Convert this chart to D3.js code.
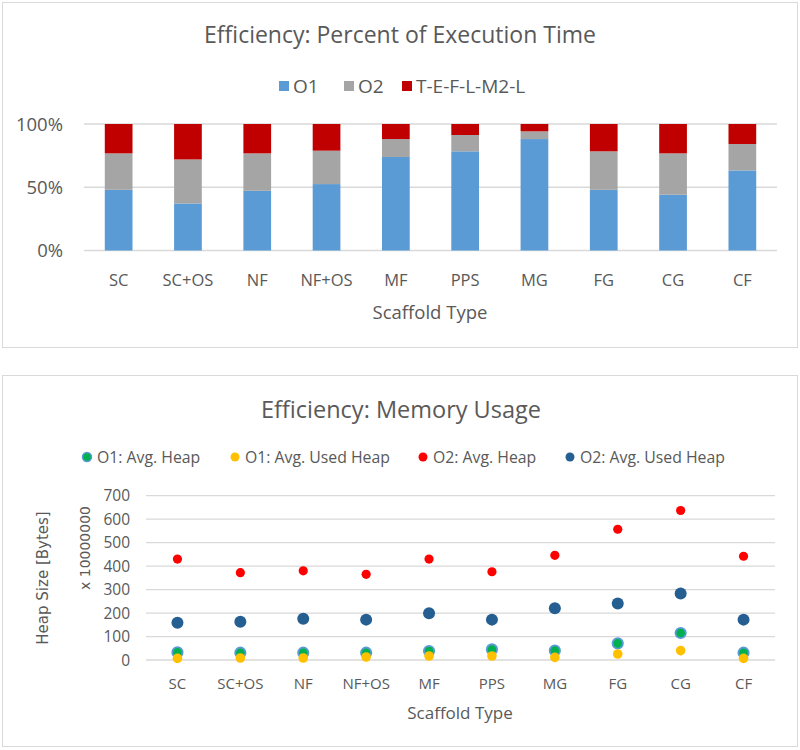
<!DOCTYPE html>
<html>
<head>
<meta charset="utf-8">
<script src="https://cdn.jsdelivr.net/npm/d3@7"></script>
<style>
  body { margin: 0; background: #fff; }
  svg { display: block; }
  text { font-family: "Open Sans", sans-serif; fill: #595959; }
</style>
</head>
<body>
<svg width="800" height="750"></svg>
<script>
const SCAFFOLDS = ['SC', 'SC+OS', 'NF', 'NF+OS', 'MF', 'PPS', 'MG', 'FG', 'CG', 'CF'];

// top chart: share of execution time (%)
const O1_TIME = [48, 37.2, 47.2, 52.5, 73.9, 78.4, 88.1, 48, 44.1, 63.3];
const O2_TIME = [28.8, 34.8, 29.6, 26.4, 14.2, 12.9, 6.1, 30.4, 32.7, 20.9];
const TEFL_TIME = [23.2, 28, 23.2, 21.1, 11.9, 8.7, 5.8, 21.6, 23.2, 15.8];
const PCT_TICKS = [0, 50, 100];

// bottom chart: heap size (x 10000000 bytes)
const O1_HEAP = [33, 31, 31, 31, 38, 45, 40, 71, 115, 31];
const O1_USED = [7, 8.5, 8.5, 12.8, 17, 17, 11, 25.5, 40, 7];
const O2_HEAP = [430, 372, 380, 365, 430, 376, 446, 557, 637, 442];
const O2_USED = [159, 163, 176, 172, 199, 172, 220, 241, 283, 172];
const HEAP_TICKS = [0, 100, 200, 300, 400, 500, 600, 700];

const svg = d3.select('svg');

// panel frames
svg.append('rect').attr('x', 2.5).attr('y', 2.5).attr('width', 795).attr('height', 345)
  .attr('fill', '#fff').attr('stroke', '#d9d9d9');
svg.append('rect').attr('x', 2.5).attr('y', 375.5).attr('width', 795).attr('height', 371)
  .attr('fill', '#fff').attr('stroke', '#d9d9d9');

// ---------- top: stacked percent bars ----------
const timeRows = SCAFFOLDS.map((s, i) => ({ cat: s, o1: O1_TIME[i], o2: O2_TIME[i], t: TEFL_TIME[i] }));
const timeKeys = ['o1', 'o2', 't'];
const timeColors = { o1: '#5b9bd5', o2: '#a5a5a5', t: '#c00000' };
const timeNames = { o1: 'O1', o2: 'O2', t: 'T-E-F-L-M2-L' };

const x1 = d3.scaleBand().domain(SCAFFOLDS).range([84, 777]).paddingInner(0.6).paddingOuter(0.3);
const y1 = d3.scaleLinear().domain([0, 100]).range([250.5, 124]);

const timeChart = svg.append('g');

timeChart.append('text').attr('x', 400).attr('y', 43).attr('text-anchor', 'middle')
  .style('font-size', '23px').text('Efficiency: Percent of Execution Time');

timeChart.selectAll('.grid1').data(PCT_TICKS).enter().append('line')
  .attr('x1', 84).attr('x2', 777)
  .attr('y1', d => y1(d)).attr('y2', d => y1(d))
  .attr('stroke', '#d9d9d9').attr('stroke-width', 1.3);

const stack = d3.stack().keys(timeKeys)(timeRows);
timeChart.selectAll('.layer').data(stack).enter().append('g')
  .attr('fill', d => timeColors[d.key])
  .selectAll('rect').data(d => d).enter().append('rect')
  .attr('x', d => x1(d.data.cat))
  .attr('width', x1.bandwidth())
  .attr('y', d => y1(Math.min(100, d[1])))
  .attr('height', d => y1(d[0]) - y1(Math.min(100, d[1])));

timeChart.selectAll('.ytick1').data(PCT_TICKS).enter().append('text')
  .attr('x', 63).attr('y', d => y1(d) + 6.5).attr('text-anchor', 'end')
  .style('font-size', '18.5px').text(d => d + '%');

timeChart.selectAll('.xtick1').data(SCAFFOLDS).enter().append('text')
  .attr('x', d => x1(d) + x1.bandwidth() / 2).attr('y', 285.5).attr('text-anchor', 'middle')
  .style('font-size', '16.5px').text(d => d);

timeChart.append('text').attr('x', 430).attr('y', 318.5).attr('text-anchor', 'middle')
  .style('font-size', '18.5px').text('Scaffold Type');

const leg1x = { o1: 279, o2: 344, t: 402 };
timeKeys.forEach(k => {
  timeChart.append('rect').attr('x', leg1x[k]).attr('y', 81).attr('width', 10).attr('height', 10)
    .attr('fill', timeColors[k]);
  timeChart.append('text').attr('x', leg1x[k] + 14).attr('y', 92.5)
    .style('font-size', '19px').text(timeNames[k]);
});

// ---------- bottom: memory scatter ----------
const memSeries = [
  { name: 'O1: Avg. Heap', values: O1_HEAP, fill: '#00b050', stroke: '#5b9bd5', r: 5.2, lx: 87 },
  { name: 'O1: Avg. Used Heap', values: O1_USED, fill: '#ffc000', stroke: 'none', r: 4.8, lx: 235 },
  { name: 'O2: Avg. Heap', values: O2_HEAP, fill: '#ff0000', stroke: 'none', r: 4.6, lx: 423 },
  { name: 'O2: Avg. Used Heap', values: O2_USED, fill: '#255e91', stroke: 'none', r: 6, lx: 570 }
];

const x2 = d3.scalePoint().domain(SCAFFOLDS).range([146, 775]).padding(0.5);
const y2 = d3.scaleLinear().domain([0, 700]).range([660, 495.7]);

const memChart = svg.append('g');

memChart.append('text').attr('x', 401).attr('y', 418).attr('text-anchor', 'middle')
  .style('font-size', '23.5px').text('Efficiency: Memory Usage');

memSeries.forEach(s => {
  memChart.append('circle').attr('cx', s.lx).attr('cy', 457).attr('r', 4.5)
    .attr('fill', s.fill).attr('stroke', s.stroke).attr('stroke-width', 1.5);
  memChart.append('text').attr('x', s.lx + 10).attr('y', 462.8)
    .style('font-size', '15.8px').text(s.name);
});

memChart.selectAll('.grid2').data(HEAP_TICKS).enter().append('line')
  .attr('x1', 146).attr('x2', 775)
  .attr('y1', d => y2(d)).attr('y2', d => y2(d))
  .attr('stroke', '#d9d9d9').attr('stroke-width', 1.3);

memChart.selectAll('.ytick2').data(HEAP_TICKS).enter().append('text')
  .attr('x', 130).attr('y', d => y2(d) + 5.7).attr('text-anchor', 'end')
  .style('font-size', '15.5px').text(d => d);

memChart.append('text')
  .attr('transform', 'translate(90,548) rotate(-90)').attr('text-anchor', 'middle')
  .style('font-family', '"DejaVu Sans", sans-serif').style('font-size', '14px')
  .text('x 10000000');
memChart.append('text')
  .attr('transform', 'translate(48,578) rotate(-90)').attr('text-anchor', 'middle')
  .style('font-family', '"DejaVu Sans", sans-serif').style('font-size', '15px')
  .text('Heap Size [Bytes]');

memSeries.forEach(s => {
  memChart.append('g').selectAll('circle').data(s.values).enter().append('circle')
    .attr('cx', (d, i) => x2(SCAFFOLDS[i]))
    .attr('cy', d => y2(d))
    .attr('r', s.r)
    .attr('fill', s.fill)
    .attr('stroke', s.stroke)
    .attr('stroke-width', s.stroke === 'none' ? 0 : 1.8);
});

memChart.selectAll('.xtick2').data(SCAFFOLDS).enter().append('text')
  .attr('x', d => x2(d)).attr('y', 688.5).attr('text-anchor', 'middle')
  .style('font-size', '15px').text(d => d);

memChart.append('text').attr('x', 460).attr('y', 719).attr('text-anchor', 'middle')
  .style('font-size', '17px').text('Scaffold Type');
</script>
</body>
</html>
